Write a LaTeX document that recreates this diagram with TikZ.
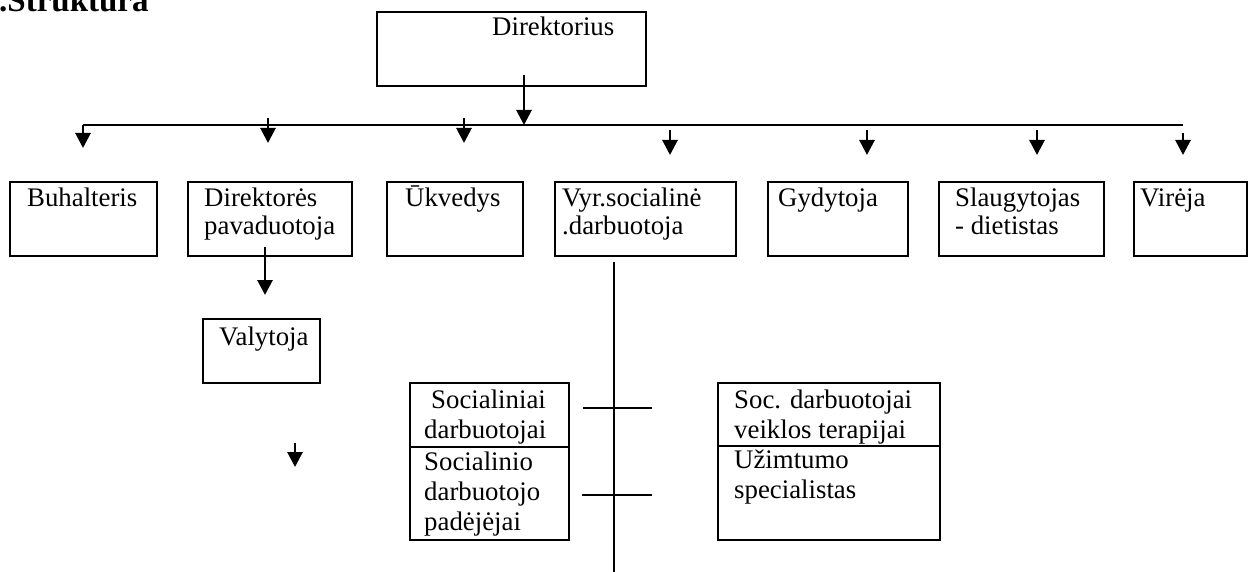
\documentclass[tikz,border=0pt]{standalone}
\usepackage{fontspec}
\setmainfont{Liberation Serif}
\usetikzlibrary{arrows.meta,calc}
\begin{document}
\begin{tikzpicture}[x=1pt,y=-1pt,
 box/.style={draw,line width=1.8pt,anchor=north west,inner sep=0pt,outer sep=0pt},
 lbl/.style={anchor=base west,inner sep=0pt,font=\fontsize{26.8}{29}\selectfont},
 con/.style={line width=2.8pt},
 arr/.style={con,-{Triangle[length=15pt,width=15pt]}}]
\useasboundingbox (0,0) rectangle (1248,572);
% title
\node[anchor=base west,inner sep=0pt,font=\bfseries\fontsize{33}{36}\selectfont] (title) at (-1,12) {.Struktura};
% boxes
\node[box,minimum width=269pt,minimum height=74pt] (dir) at (377,12) {};
\node[box,minimum width=147pt,minimum height=74pt] (buh) at (10,182) {};
\node[box,minimum width=164pt,minimum height=74pt] (pav) at (188,182) {};
\node[box,minimum width=136pt,minimum height=74pt] (ukv) at (387,182) {};
\node[box,minimum width=181pt,minimum height=74pt] (vyr) at (555,182) {};
\node[box,minimum width=140pt,minimum height=74pt] (gyd) at (768,182) {};
\node[box,minimum width=165pt,minimum height=74pt] (sla) at (939,182) {};
\node[box,minimum width=113pt,minimum height=74pt] (vir) at (1134,182) {};
\node[box,minimum width=117pt,minimum height=64pt] (val) at (203,319) {};
\node[box,minimum width=159pt,minimum height=64pt] (soca) at (410,383) {};
\node[box,minimum width=159pt,minimum height=93pt] (socb) at (410,447) {};
\node[box,minimum width=222pt,minimum height=63pt] (ra) at (718,383) {};
\node[box,minimum width=222pt,minimum height=94pt] (rb) at (718,446) {};
% labels
\node[lbl] (tdir) at (492,36) {Direktorius};
\node[lbl] (tbuh) at (27,207) {Buhalteris};
\node[lbl] (tpav1) at (204,207) {Direktorės};
\node[lbl] (tpav2) at (204,235) {pavaduotoja};
\node[lbl] (tukv) at (405,207) {Ūkvedys};
\node[lbl] (tvyr1) at (562,207) {Vyr.socialinė};
\node[lbl] (tvyr2) at (562,235) {.darbuotoja};
\node[lbl] (tgyd) at (778,207) {Gydytoja};
\node[lbl] (tsla1) at (955,207) {Slaugytojas};
\node[lbl] (tsla2) at (955,235) {- dietistas};
\node[lbl] (tvir) at (1140,207) {Virėja};
\node[lbl] (tval) at (219,345) {Valytoja};
\node[lbl] (tsa1) at (431,408) {Socialiniai};
\node[lbl] (tsa2) at (424,438) {darbuotojai};
\node[lbl] (tsb1) at (424,470) {Socialinio};
\node[lbl] (tsb2) at (424,500) {darbuotojo};
\node[lbl] (tsb3) at (424,530) {padėjėjai};
\node[lbl] (tra1) at (734,408) {Soc. darbuotojai};
\node[lbl] (tra2) at (734,438) {veiklos terapijai};
\node[lbl] (trb1) at (734,468) {Užimtumo};
\node[lbl] (trb2) at (734,498) {specialistas};
% coordinates
\coordinate (hL) at (83,125);
\coordinate (hR) at (1183,125);
\coordinate (d0) at (524,75);
\coordinate (d1) at (524,125);
\coordinate (a1) at (83,148);
\coordinate (b0) at (268,118); \coordinate (b1) at (268,143);
\coordinate (c0) at (464,118); \coordinate (c1) at (464,143);
\coordinate (e0) at (670,130); \coordinate (e1) at (670,155);
\coordinate (f0) at (867,130); \coordinate (f1) at (867,155);
\coordinate (g0) at (1037,130); \coordinate (g1) at (1037,155);
\coordinate (h0) at (1183,133); \coordinate (h1) at (1183,155);
\coordinate (p0) at (265,247); \coordinate (p1) at (265,295);
\coordinate (s0) at (295,443); \coordinate (s1) at (295,467);
\coordinate (v0) at (614,262); \coordinate (v1) at (614,572);
\coordinate (t1a) at (583,408); \coordinate (t1b) at (652,408);
\coordinate (t2a) at (582,495); \coordinate (t2b) at (652,495);
% connectors
\draw[con] (hL) -- (hR);
\draw[arr] (d0) -- (d1);
\draw[arr] (hL) -- (a1);
\draw[arr] (b0) -- (b1);
\draw[arr] (c0) -- (c1);
\draw[arr] (e0) -- (e1);
\draw[arr] (f0) -- (f1);
\draw[arr] (g0) -- (g1);
\draw[arr] (h0) -- (h1);
\draw[arr] (p0) -- (p1);
\draw[arr] (s0) -- (s1);
\draw[con] (v0) -- (v1);
\draw[con] (t1a) -- (t1b);
\draw[con] (t2a) -- (t2b);
\end{tikzpicture}
\end{document}
